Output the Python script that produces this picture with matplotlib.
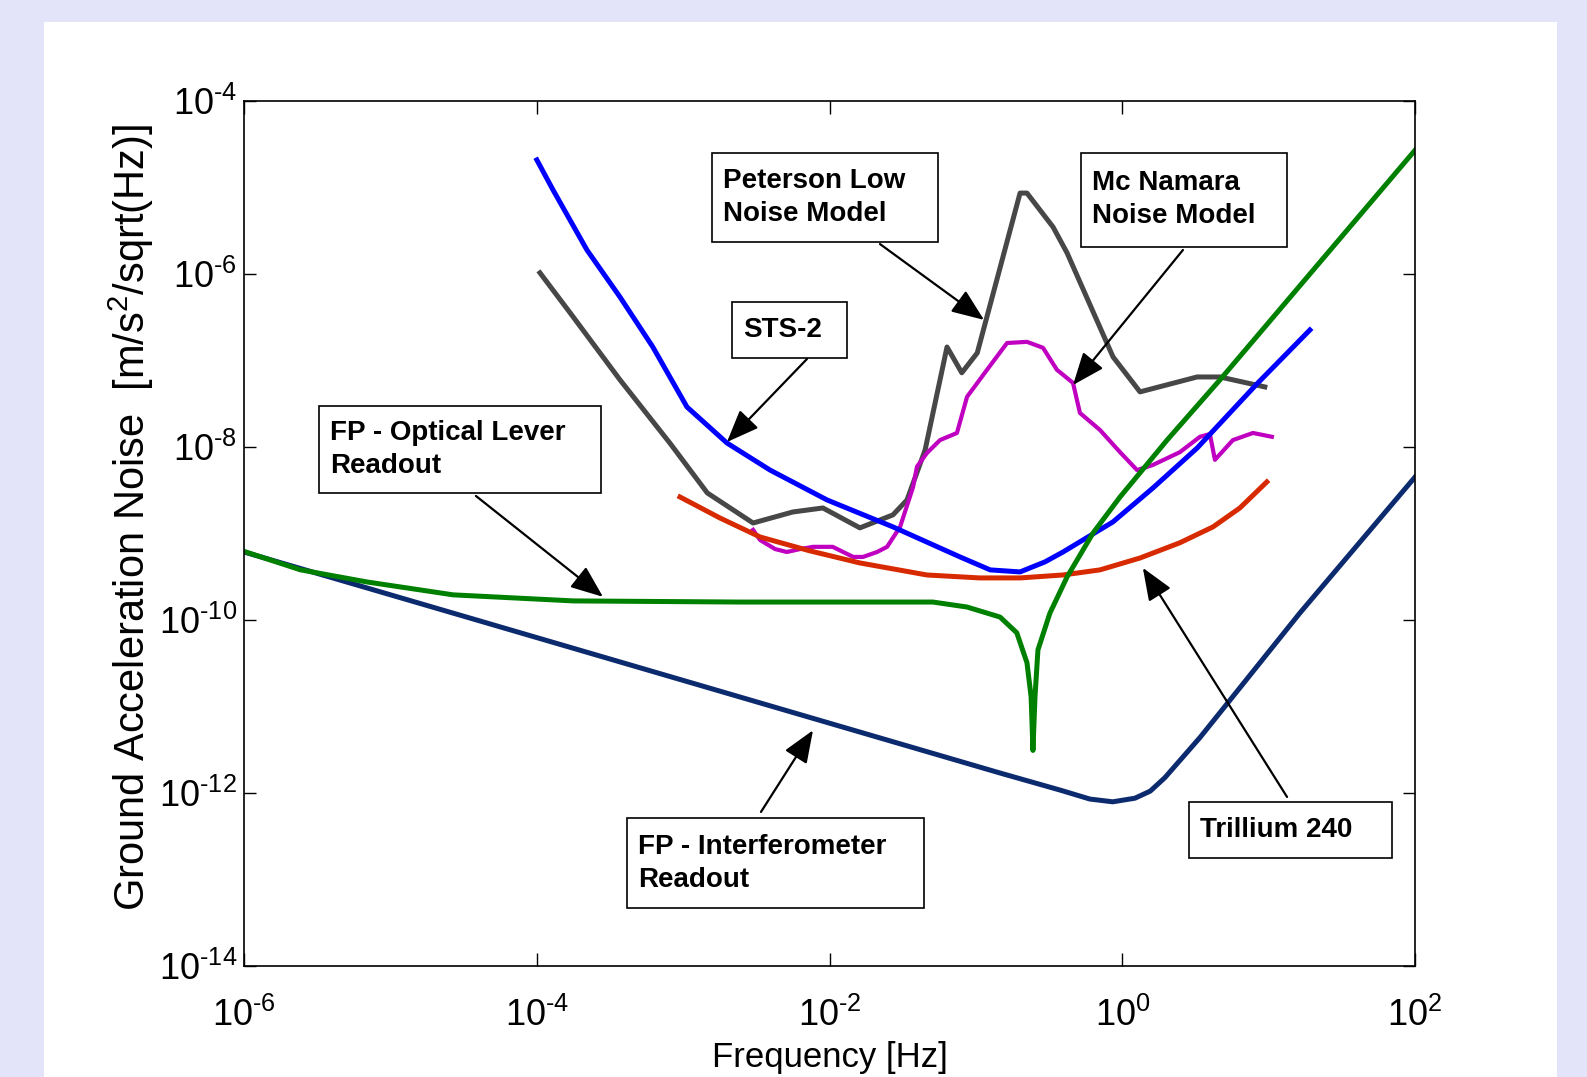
import numpy as np
import matplotlib
matplotlib.use('Agg')
from matplotlib import pyplot as plt
from matplotlib.patches import Rectangle
from matplotlib.ticker import FuncFormatter

plt.rcParams['font.family'] = ['Liberation Sans', 'DejaVu Sans']
plt.rcParams['mathtext.fontset'] = 'custom'
plt.rcParams['mathtext.rm'] = 'Liberation Sans'
plt.rcParams['mathtext.it'] = 'Liberation Sans:italic'
plt.rcParams['mathtext.bf'] = 'Liberation Sans:bold'
plt.rcParams['axes.unicode_minus'] = False

# FP - interferometer readout noise  [Hz], [m/s^2/sqrt(Hz)]
ifo_freq = [1e-6, 1.0e-2, 0.146, 0.375, 0.60, 0.86, 1.22, 1.55, 1.95, 3.4, 16.3, 100]
ifo_noise = [6.1e-10, 6.4e-12, 1.7e-12, 1.08e-12, 8.5e-13, 7.9e-13, 8.7e-13,
             1.05e-12, 1.5e-12, 4.4e-12, 1.2e-10, 4.5e-9]

# FP - optical lever readout noise
olev_freq = [1e-6, 2.42e-6, 6.9e-6, 2.68e-5, 1.77e-4, 2.44e-3, 0.0508, 0.0869,
             0.146, 0.190, 0.223, 0.238, 0.245, 0.253, 0.265, 0.320, 0.419,
             0.630, 0.964, 2.02, 4.64, 100]
olev_noise = [6.2e-10, 3.8e-10, 2.75e-10, 1.95e-10, 1.66e-10, 1.61e-10, 1.61e-10,
              1.41e-10, 1.08e-10, 7.1e-11, 3.2e-11, 1.29e-11, 3.1e-12, 1.29e-11,
              4.5e-11, 1.2e-10, 3.14e-10, 1.01e-9, 2.64e-9, 1.2e-8, 5.96e-8, 2.7e-5]

# Trillium 240 self noise
tril_freq = [9.5e-4, 1.78e-3, 3.35e-3, 7.3e-3, 0.0161, 0.0462, 0.106, 0.200,
             0.393, 0.703, 1.32, 2.47, 4.16, 6.35, 9.7]
tril_noise = [2.64e-9, 1.51e-9, 9.1e-10, 6.3e-10, 4.56e-10, 3.31e-10, 3.06e-10,
              3.06e-10, 3.31e-10, 3.79e-10, 5.2e-10, 7.8e-10, 1.19e-9, 1.97e-9, 3.94e-9]

# STS-2 self noise
sts2_freq = [1.0e-4, 1.29e-4, 2.2e-4, 3.7e-4, 6.2e-4, 1.06e-3, 1.99e-3, 3.92e-3,
             9.6e-3, 0.0271, 0.0778, 0.125, 0.200, 0.296, 0.393, 0.863, 1.62,
             3.24, 8.3, 19.1]
sts2_noise = [2.08e-5, 9.35e-6, 1.89e-6, 5.4e-7, 1.43e-7, 2.9e-8, 1.11e-8, 5.4e-9,
              2.44e-9, 1.19e-9, 5.35e-10, 3.79e-10, 3.59e-10, 4.69e-10, 6.1e-10,
              1.36e-9, 3.36e-9, 9.7e-9, 5.35e-8, 2.25e-7]

# Peterson low noise model
nlnm_freq = [1.05e-4, 1.69e-4, 3.7e-4, 8.1e-4, 1.46e-3, 3.0e-3, 5.6e-3, 9.0e-3,
             0.0161, 0.0271, 0.0338, 0.0449, 0.0634, 0.080, 0.102, 0.200, 0.223,
             0.336, 0.419, 0.863, 1.32, 3.24, 4.64, 9.4]
nlnm_noise = [1.03e-6, 3.54e-7, 5.96e-8, 1.11e-8, 2.94e-9, 1.32e-9, 1.77e-9, 1.97e-9,
              1.16e-9, 1.64e-9, 2.44e-9, 9.2e-9, 1.43e-7, 7.2e-8, 1.22e-7, 8.6e-6,
              8.6e-6, 3.49e-6, 1.75e-6, 1.1e-7, 4.33e-8, 6.44e-8, 6.44e-8, 4.94e-8]

# McNamara noise model (site mode)
mcn_freq = [3.0e-3, 3.35e-3, 4.24e-3, 5.1e-3, 6.3e-3, 7.7e-3, 0.0105, 0.0145,
            0.0169, 0.0211, 0.0247, 0.0303, 0.0372, 0.0395, 0.0462, 0.0568,
            0.0741, 0.0869, 0.119, 0.163, 0.223, 0.287, 0.357, 0.460, 0.513,
            0.703, 0.964, 1.26, 1.62, 2.47, 3.39, 3.96, 4.29, 5.69, 7.8, 10.5]
mcn_noise = [1.10e-9, 8.4e-10, 6.6e-10, 6.1e-10, 6.6e-10, 7.0e-10, 7.0e-10, 5.35e-10,
             5.35e-10, 6.1e-10, 7.0e-10, 1.19e-9, 3.45e-9, 5.9e-9, 8.5e-9, 1.2e-8,
             1.45e-8, 3.8e-8, 7.8e-8, 1.59e-7, 1.64e-7, 1.40e-7, 7.8e-8, 5.5e-8,
             2.47e-8, 1.57e-8, 8.7e-9, 5.4e-9, 6.2e-9, 8.7e-9, 1.31e-8, 1.41e-8,
             7.1e-9, 1.2e-8, 1.45e-8, 1.31e-8]

xtick_vals = [1e-6, 1e-4, 1e-2, 1e0, 1e2]
ytick_vals = [1e-14, 1e-12, 1e-10, 1e-8, 1e-6, 1e-4]

# label, box (left, bottom, right, top) in figure fraction, arrow tail (figure fraction), arrow tip (data)
callouts = [
    ("Peterson Low\nNoise Model", (0.4487, 0.7753, 0.5911, 0.8579), (0.5545, 0.7734), (0.1135, 2.94e-7)),
    ("Mc Namara\nNoise Model", (0.6812, 0.7707, 0.8110, 0.8579), (0.7454, 0.7679), (0.46, 5.2e-8)),
    ("STS-2", (0.4612, 0.6676, 0.5337, 0.7196), (0.5085, 0.6667), (1.99e-3, 1.14e-8)),
    ("FP - Optical Lever\nReadout", (0.2010, 0.5423, 0.3787, 0.6230), (0.2999, 0.5395), (2.83e-4, 1.85e-10)),
    ("FP - Interferometer\nReadout", (0.3951, 0.1569, 0.5822, 0.2405), (0.4795, 0.2461), (7.7e-3, 5.3e-12)),
    ("Trillium 240", (0.7492, 0.2033, 0.8771, 0.2553), (0.8110, 0.2600), (1.38, 4.0e-10)),
]


def decade_label(v, pos):
    # plain hyphen in the exponent, like the old MATLAB axes
    e = int(round(np.log10(v)))
    return r'$10^{\text{%d}}$' % e


fig = plt.figure(figsize=(15.87, 10.77), dpi=100, facecolor='#e3e3fa')
# white sheet behind the plot
fig.patches.append(Rectangle((44 / 1587, 0), 1513 / 1587, 1 - 22 / 1077,
                             transform=fig.transFigure, facecolor='white',
                             edgecolor='none', zorder=-10))

ax = fig.add_axes([0.1538, 0.1031, 0.7379, 0.8032])

lw = 3.6
ax.loglog(nlnm_freq, nlnm_noise, color='#474747', lw=lw)
ax.loglog(mcn_freq, mcn_noise, color='#c000c0', lw=3.0)
ax.loglog(tril_freq, tril_noise, color='#d82a00', lw=lw)
ax.loglog(sts2_freq, sts2_noise, color='#0000ff', lw=lw)
ax.loglog(ifo_freq, ifo_noise, color='#0c2a6e', lw=lw)
ax.loglog(olev_freq, olev_noise, color='#008000', lw=lw)

ax.set_xlim(1e-6, 1e2)
ax.set_ylim(1e-14, 1e-4)
ax.set_xticks(xtick_vals)
ax.set_yticks(ytick_vals)
ax.minorticks_off()
ax.xaxis.set_major_formatter(FuncFormatter(decade_label))
ax.yaxis.set_major_formatter(FuncFormatter(decade_label))
ax.tick_params(axis='both', which='major', direction='in', top=True, right=True,
               width=1.0, labelsize=26)
ax.tick_params(axis='x', length=9.5, pad=23)
ax.tick_params(axis='y', length=8.3, pad=5)
for s in ax.spines.values():
    s.set_linewidth(1.2)

ax.set_xlabel("Frequency [Hz]", fontsize=25, labelpad=5)
ax.set_ylabel(r"Ground Acceleration Noise  [m/s$^{\text{2}}$/sqrt(Hz)]", fontsize=30)
ax.yaxis.set_label_coords(-0.075, 0.519)

for label, (x0, y0, x1, y1), tail, tip in callouts:
    fig.patches.append(Rectangle((x0, y0), x1 - x0, y1 - y0, transform=fig.transFigure,
                                 facecolor='white', edgecolor='black', lw=1.2, zorder=5))
    fig.text(x0 + 11 / 1587, (y0 + y1) / 2, label, fontsize=20, fontweight='bold',
             ha='left', va='center', linespacing=1.35, zorder=6)
    ax.annotate('', xy=tip, xycoords='data', xytext=tail, textcoords='figure fraction',
                arrowprops=dict(arrowstyle='-|>,head_length=1.0,head_width=0.4',
                                mutation_scale=20, lw=1.6, color='black',
                                shrinkA=0, shrinkB=0))

fig.savefig('out.png', dpi=100, facecolor=fig.get_facecolor())
